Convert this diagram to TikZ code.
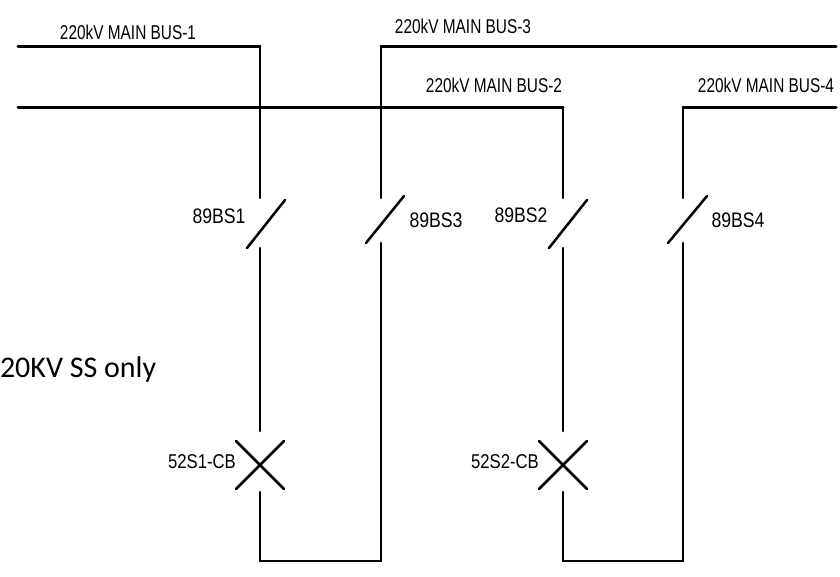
\documentclass[tikz,border=0pt]{standalone}
\usepackage{fontspec}
\setmainfont{Liberation Sans}
\newfontfamily\notefont{Carlito}
\tikzset{
  wire/.style={line width=2.5pt,line cap=round,line join=miter,black},
  busline/.style={line width=3pt,line cap=round,line join=miter,black},
  blade/.style={line width=2.5pt,line cap=round,black},
  buslbl/.style={inner sep=0pt,outer sep=0pt,font=\fontsize{20}{24}\selectfont,xscale=0.77,text=black},
  swlbl/.style={inner sep=0pt,outer sep=0pt,font=\fontsize{21}{25}\selectfont,xscale=0.84,text=black},
  cblbl/.style={inner sep=0pt,outer sep=0pt,font=\fontsize{20}{24}\selectfont,xscale=0.835,text=black},
  notelbl/.style={inner sep=0pt,outer sep=0pt,anchor=base west,font=\notefont\fontsize{30}{36}\selectfont,text=black}
}
\begin{document}
\begin{tikzpicture}[x=1pt,y=-1pt]
\useasboundingbox (0,0) rectangle (840,576);
% bus ends and corners
\coordinate (b1s) at (18,46); \coordinate (b1c) at (260,46);
\coordinate (b2s) at (18,107); \coordinate (b2c) at (563,107);
\coordinate (b3e) at (836,46); \coordinate (b3c) at (381,46);
\coordinate (b4e) at (836,107); \coordinate (b4c) at (683,107);
% disconnector contacts
\coordinate (s1t) at (260,198); \coordinate (s1b) at (260,248);
\coordinate (s1a) at (247,248); \coordinate (s1z) at (285,200);
\coordinate (s3t) at (381,198); \coordinate (s3b) at (381,243);
\coordinate (s3a) at (366,243); \coordinate (s3z) at (404,196);
\coordinate (s2t) at (563,198); \coordinate (s2b) at (563,248);
\coordinate (s2a) at (549,248); \coordinate (s2z) at (587,200);
\coordinate (s4t) at (683,198); \coordinate (s4b) at (683,243);
\coordinate (s4a) at (668,243); \coordinate (s4z) at (707,196);
% breakers
\coordinate (c1t) at (260,431); \coordinate (c1b) at (260,492);
\coordinate (c1p) at (236,441); \coordinate (c1q) at (284,489);
\coordinate (c1r) at (236,489); \coordinate (c1u) at (284,441);
\coordinate (c2t) at (563,431); \coordinate (c2b) at (563,492);
\coordinate (c2p) at (539,441); \coordinate (c2q) at (587,489);
\coordinate (c2r) at (539,489); \coordinate (c2u) at (587,441);
\coordinate (j1) at (260,561); \coordinate (j3) at (381,561);
\coordinate (j2) at (563,561); \coordinate (j4) at (683,561);
% buses
\draw[busline] (b1s) -- (b1c); \draw[wire] (b1c) -- (s1t);
\draw[busline] (b2s) -- (b2c); \draw[wire] (b2c) -- (s2t);
\draw[busline] (b3e) -- (b3c); \draw[wire] (b3c) -- (s3t);
\draw[busline] (b4e) -- (b4c); \draw[wire] (b4c) -- (s4t);
% disconnector blades
\draw[blade] (s1a) -- (s1z);
\draw[blade] (s2a) -- (s2z);
\draw[blade] (s3a) -- (s3z);
\draw[blade] (s4a) -- (s4z);
% bays
\draw[wire] (s1b) -- (c1t);
\draw[wire] (s2b) -- (c2t);
\draw[blade] (c1p) -- (c1q); \draw[blade] (c1r) -- (c1u);
\draw[blade] (c2p) -- (c2q); \draw[blade] (c2r) -- (c2u);
\draw[wire] (c1b) -- (j1) -- (j3) -- (s3b);
\draw[wire] (c2b) -- (j2) -- (j4) -- (s4b);
% labels
\node[buslbl] (t1) at (128,32) {220kV MAIN BUS-1};
\node[buslbl] (t3) at (463,26) {220kV MAIN BUS-3};
\node[buslbl] (t2) at (494,85) {220kV MAIN BUS-2};
\node[buslbl] (t4) at (766,85) {220kV MAIN BUS-4};
\node[swlbl] (l1) at (219,216) {89BS1};
\node[swlbl] (l3) at (436,220) {89BS3};
\node[swlbl] (l2) at (521,215) {89BS2};
\node[swlbl] (l4) at (738,220) {89BS4};
\node[cblbl] (k1) at (202,462) {52S1-CB};
\node[cblbl] (k2) at (505,462) {52S2-CB};
\node[notelbl] (note) at (0,377) {20KV SS only};
\end{tikzpicture}
\end{document}
